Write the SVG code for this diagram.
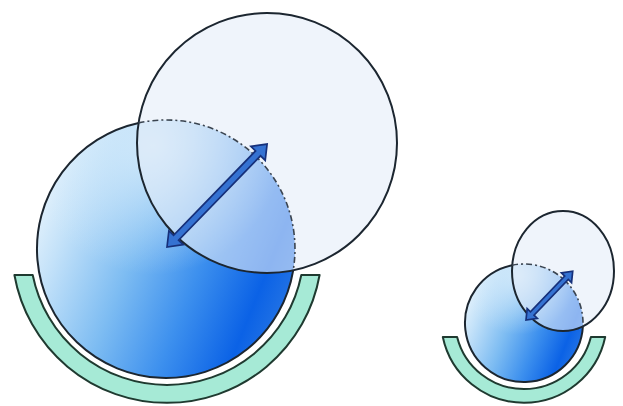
<svg xmlns="http://www.w3.org/2000/svg" width="623" height="406" viewBox="0 0 623 406">
<defs>
<linearGradient id="blueG" x1="0" y1="0.35" x2="1" y2="0.75">
<stop offset="0" stop-color="#e2f1fc"/>
<stop offset="0.12" stop-color="#c4e2f9"/>
<stop offset="0.38" stop-color="#7dbcf2"/>
<stop offset="0.62" stop-color="#3d90ee"/>
<stop offset="0.85" stop-color="#0b62e6"/>
<stop offset="1" stop-color="#2a78e4"/>
</linearGradient>
<radialGradient id="topG" cx="0.45" cy="0.1" r="0.5">
<stop offset="0" stop-color="#d6ecfb" stop-opacity="0.9"/>
<stop offset="1" stop-color="#d6ecfb" stop-opacity="0"/>
</radialGradient>
<style>
.blue{fill:url(#blueG);stroke:none}
.hl{fill:url(#topG);stroke:none}
.edge{fill:none;stroke:#1c2630;stroke-width:2}
.dash{fill:none;stroke:#3a4450;stroke-width:1.6;stroke-dasharray:6 3 2 3}
.lite{fill:#e4ecf8;fill-opacity:0.6;stroke:#1c2630;stroke-width:2}
.cup{fill:#a6ead6;stroke:#1f3a30;stroke-width:2;stroke-linejoin:round}
.arr{fill:#3572d2;stroke:#16307a;stroke-width:1.7;stroke-linejoin:miter}
</style>
</defs>
<g id="big-cup">
<path class="cup" d="M14.4,275 A155,155 0 0 0 319.6,275 L301.3,275 A137,137 0 0 1 32.7,275 Z"/>
</g>
<g id="big-blue">
<circle class="blue" cx="166" cy="249" r="129"/>
<circle class="hl" cx="166" cy="249" r="129"/>
<path class="edge" d="M293.2,270.3 A129,129 0 1 1 138.6,122.9"/>
</g>
<g id="big-light">
<circle class="lite" cx="267" cy="143" r="130"/>
<path class="dash" d="M138.6,122.9 A129,129 0 0 1 293.2,270.3"/>
</g>
<g id="small-cup">
<path class="cup" d="M442.8,337 A83,83 0 0 0 605.2,337 L590.9,337 A69,69 0 0 1 457.1,337 Z"/>
</g>
<g id="small-blue">
<circle class="blue" cx="524" cy="323" r="59"/>
<circle class="hl" cx="524" cy="323" r="59"/>
<path class="edge" d="M582.9,326.3 A59,59 0 1 1 512.2,265.2"/>
</g>
<g id="small-light">
<ellipse class="lite" cx="563" cy="271" rx="51" ry="60"/>
<path class="dash" d="M512.2,265.2 A59,59 0 0 1 582.9,326.3"/>
</g>
<g id="connectors">
<g transform="translate(167,247) rotate(-45.8)">
<polygon class="arr" points="0,0 13,-10 13,-3.5 130.6,-3.5 130.6,-10 143.6,0 130.6,10 130.6,3.5 13,3.5 13,10"/>
</g>
<g transform="translate(526,320) rotate(-46.2)">
<polygon class="arr" points="0,0 9,-7 9,-2.5 58.5,-2.5 58.5,-7 67.5,0 58.5,7 58.5,2.5 9,2.5 9,7"/>
</g>
</g>
</svg>
